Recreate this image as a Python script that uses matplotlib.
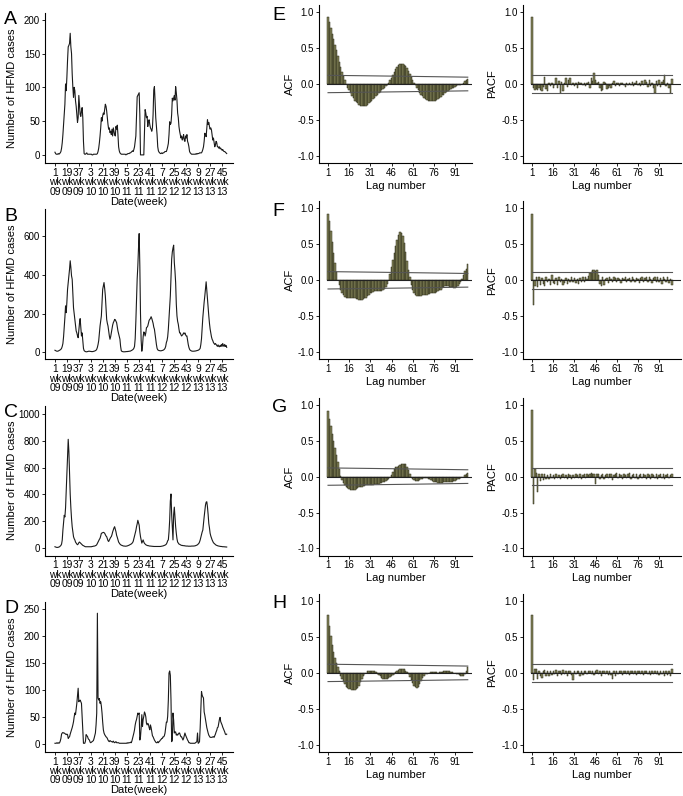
import numpy as np
import matplotlib
matplotlib.use('Agg')
import matplotlib.pyplot as plt

plt.rcParams['font.family'] = ['Liberation Sans', 'DejaVu Sans']
plt.rcParams['axes.unicode_minus'] = False

# ---------------- data ----------------
tick_weeks = [0, 18, 36, 54, 72, 90, 108, 126, 144, 162, 180, 198, 216, 234, 252]
tick_labels = ['1\nwk\n09', '19\nwk\n09', '37\nwk\n09', '3\nwk\n10', '21\nwk\n10', '39\nwk\n10',
               '5\nwk\n11', '23\nwk\n11', '41\nwk\n11', '7\nwk\n12', '25\nwk\n12', '43\nwk\n12',
               '9\nwk\n13', '27\nwk\n13', '45\nwk\n13']

cases_A = [
    4, 2, 1, 1, 1, 2, 1, 2, 3, 5, 10, 18, 30,
    45, 60, 75, 105, 95, 115, 140, 160, 162, 165, 180, 160, 150,
    120, 100, 85, 100, 95, 80, 72, 60, 48, 55, 88, 75, 60,
    57, 65, 70, 55, 20, 2, 1, 1, 2, 3, 1, 1, 1,
    1, 1, 1, 1, 0, 0, 1, 1, 1, 1, 1, 1, 2,
    5, 10, 18, 28, 40, 55, 50, 58, 62, 60, 68, 75, 72,
    65, 55, 45, 38, 40, 33, 35, 30, 38, 28, 40, 35, 30,
    28, 42, 38, 44, 30, 12, 6, 3, 2, 1, 1, 1, 1,
    1, 1, 1, 0, 1, 1, 2, 2, 2, 3, 3, 4, 5,
    6, 5, 8, 12, 20, 28, 55, 86, 88, 90, 92, 60, 0,
    0, 0, 0, 0, 0, 35, 67, 62, 55, 57, 42, 50, 52,
    45, 40, 38, 35, 40, 60, 96, 101, 80, 55, 42, 30, 12,
    6, 4, 3, 2, 2, 3, 2, 3, 3, 4, 5, 5, 5,
    8, 12, 17, 30, 49, 45, 47, 60, 84, 80, 84, 88, 81,
    101, 92, 81, 62, 55, 42, 35, 30, 25, 28, 22, 25, 30,
    22, 20, 28, 25, 30, 20, 17, 12, 5, 3, 2, 1, 1,
    1, 1, 1, 1, 1, 2, 1, 2, 2, 2, 3, 3, 3,
    3, 5, 8, 12, 20, 32, 30, 27, 40, 52, 45, 48, 42,
    38, 40, 37, 30, 22, 25, 18, 12, 15, 20, 18, 12, 12,
    10, 12, 9, 10, 8, 7, 8, 6, 5, 5, 4, 3, 2]

cases_B = [
    10, 8, 6, 5, 5, 6, 8, 10, 12, 15, 20, 30, 45,
    80, 130, 180, 240, 205, 260, 326, 360, 396, 430, 474, 440, 396,
    378, 300, 230, 200, 170, 140, 110, 100, 85, 75, 110, 150, 174,
    130, 84, 100, 60, 20, 8, 5, 3, 2, 2, 3, 4, 5,
    5, 4, 4, 3, 3, 3, 4, 5, 6, 8, 10, 15, 25,
    40, 60, 100, 136, 160, 188, 260, 326, 345, 361, 330, 292, 230,
    170, 150, 136, 110, 85, 67, 80, 100, 120, 140, 153, 160, 170,
    168, 160, 153, 130, 110, 95, 80, 67, 30, 8, 4, 3, 2,
    2, 2, 2, 3, 3, 3, 4, 4, 5, 5, 6, 8, 10,
    12, 15, 20, 30, 70, 160, 275, 380, 448, 540, 615, 448, 200,
    60, 5, 30, 80, 105, 100, 84, 100, 127, 130, 136, 150, 165,
    170, 175, 184, 175, 162, 150, 130, 119, 95, 67, 40, 20, 12,
    10, 8, 8, 7, 7, 8, 9, 10, 12, 15, 20, 30, 50,
    60, 80, 120, 180, 230, 292, 380, 482, 520, 540, 555, 465, 420,
    361, 250, 188, 160, 145, 120, 100, 100, 90, 84, 88, 92, 100,
    95, 100, 90, 84, 84, 60, 40, 25, 15, 10, 8, 6, 5,
    5, 5, 5, 6, 6, 7, 8, 9, 10, 12, 15, 20, 40,
    70, 130, 180, 222, 260, 292, 330, 365, 320, 275, 230, 188, 150,
    120, 100, 80, 67, 60, 50, 45, 40, 45, 40, 35, 30, 38,
    30, 28, 35, 30, 40, 30, 45, 35, 30, 40, 30, 35, 25]

cases_C = [
    10, 8, 6, 5, 5, 6, 8, 10, 15, 20, 30, 60, 134,
    190, 244, 232, 300, 420, 525, 680, 810, 720, 560, 403, 300, 220,
    159, 120, 85, 70, 61, 45, 37, 30, 25, 30, 40, 45, 40,
    35, 30, 25, 20, 18, 15, 12, 10, 10, 10, 10, 10, 10,
    10, 10, 10, 10, 12, 12, 14, 15, 15, 18, 20, 25, 35,
    45, 55, 65, 73, 90, 110, 112, 115, 117, 115, 110, 100, 90,
    85, 70, 55, 49, 60, 73, 80, 85, 100, 120, 134, 150, 159,
    140, 122, 95, 80, 61, 45, 37, 30, 25, 22, 20, 18, 16,
    15, 15, 14, 14, 15, 16, 18, 20, 22, 25, 28, 30, 35,
    40, 50, 70, 90, 110, 130, 159, 180, 207, 190, 171, 120, 85,
    60, 37, 50, 61, 45, 35, 30, 25, 22, 20, 18, 18, 16,
    15, 15, 14, 14, 13, 13, 12, 12, 12, 12, 12, 12, 12,
    12, 12, 12, 12, 13, 14, 15, 16, 18, 20, 22, 25, 30,
    40, 55, 61, 120, 207, 350, 403, 250, 159, 61, 250, 305, 232,
    160, 110, 70, 45, 37, 30, 28, 25, 22, 20, 20, 18, 18,
    18, 16, 16, 15, 15, 15, 14, 14, 14, 14, 14, 15, 15,
    15, 15, 16, 16, 18, 20, 22, 25, 30, 35, 45, 60, 80,
    100, 120, 134, 180, 232, 280, 320, 342, 345, 305, 250, 183, 150,
    110, 90, 75, 61, 50, 40, 35, 30, 26, 22, 20, 18, 16,
    15, 14, 13, 12, 12, 11, 10, 10, 10, 9, 9, 8, 8]

cases_D = [
    1, 1, 1, 2, 1, 2, 1, 2, 5, 10, 18, 20, 21,
    20, 20, 19, 18, 17, 18, 17, 10, 12, 13, 18, 22, 26,
    30, 35, 41, 50, 57, 54, 65, 75, 90, 103, 78, 80, 81,
    78, 75, 51, 30, 1, 1, 1, 5, 17, 15, 14, 10, 8,
    7, 3, 2, 3, 4, 5, 6, 10, 15, 20, 35, 57, 242,
    85, 81, 84, 75, 78, 70, 57, 40, 26, 20, 17, 15, 13,
    12, 10, 7, 5, 4, 6, 5, 4, 4, 3, 5, 3, 2,
    3, 4, 2, 2, 2, 2, 1, 1, 1, 1, 1, 1, 1,
    1, 1, 1, 1, 1, 2, 1, 2, 2, 2, 3, 2, 5,
    10, 15, 20, 26, 35, 41, 45, 51, 57, 55, 57, 7, 13,
    30, 54, 32, 45, 51, 59, 56, 50, 38, 35, 38, 36, 30,
    26, 35, 30, 22, 15, 13, 10, 7, 5, 3, 2, 2, 4,
    2, 4, 5, 7, 8, 10, 10, 13, 13, 15, 20, 30, 40,
    40, 51, 81, 131, 135, 127, 81, 4, 7, 57, 44, 20, 22,
    22, 16, 18, 16, 18, 20, 20, 16, 13, 13, 10, 7, 10,
    15, 20, 16, 13, 10, 7, 5, 2, 2, 1, 1, 1, 1,
    1, 1, 1, 1, 2, 3, 4, 20, 1, 2, 4, 30, 63,
    97, 90, 87, 85, 59, 53, 45, 38, 30, 25, 20, 16, 14,
    12, 12, 12, 12, 13, 13, 12, 15, 18, 22, 25, 30, 31,
    38, 45, 49, 41, 38, 35, 31, 28, 25, 22, 18, 17, 18]

acf_E = [0.93, 0.86, 0.78, 0.70, 0.62, 0.54, 0.47, 0.39, 0.31, 0.24, 0.17, 0.11, 0.05, 0.00, -0.05,
         -0.09, -0.13, -0.17, -0.20, -0.23, -0.25, -0.27, -0.29, -0.30, -0.31, -0.31, -0.31, -0.30, -0.29, -0.27,
         -0.25, -0.23, -0.21, -0.19, -0.17, -0.15, -0.13, -0.11, -0.09, -0.07, -0.05, -0.03, -0.01, 0.02, 0.05,
         0.09, 0.13, 0.17, 0.21, 0.24, 0.26, 0.28, 0.28, 0.28, 0.27, 0.25, 0.22, 0.18, 0.14, 0.10,
         0.06, 0.02, -0.02, -0.05, -0.09, -0.12, -0.15, -0.17, -0.19, -0.21, -0.22, -0.23, -0.24, -0.24, -0.24,
         -0.24, -0.23, -0.22, -0.21, -0.20, -0.18, -0.16, -0.15, -0.13, -0.11, -0.10, -0.08, -0.07, -0.06, -0.05,
         -0.04, -0.03, -0.02, -0.02, -0.01, 0.00, 0.02, 0.04, 0.06, 0.07]
acf_F = [0.93, 0.82, 0.68, 0.53, 0.38, 0.24, 0.11, 0.01, -0.07, -0.13, -0.18, -0.21, -0.23, -0.24, -0.24,
         -0.25, -0.25, -0.25, -0.25, -0.25, -0.26, -0.26, -0.27, -0.27, -0.27, -0.26, -0.25, -0.24, -0.22, -0.20,
         -0.18, -0.17, -0.16, -0.15, -0.15, -0.15, -0.15, -0.15, -0.15, -0.14, -0.12, -0.09, -0.05, 0.01, 0.09,
         0.18, 0.28, 0.38, 0.48, 0.56, 0.63, 0.67, 0.66, 0.61, 0.52, 0.40, 0.27, 0.15, 0.04, -0.06,
         -0.13, -0.18, -0.21, -0.22, -0.22, -0.22, -0.22, -0.21, -0.21, -0.20, -0.20, -0.19, -0.19, -0.18, -0.18,
         -0.18, -0.17, -0.16, -0.15, -0.14, -0.13, -0.11, -0.10, -0.08, -0.08, -0.08, -0.09, -0.10, -0.10, -0.11,
         -0.11, -0.10, -0.08, -0.05, -0.02, 0.02, 0.07, 0.13, 0.16, 0.23]
acf_G = [0.92, 0.80, 0.70, 0.60, 0.50, 0.40, 0.30, 0.20, 0.10, 0.01, -0.05, -0.09, -0.12, -0.14, -0.16,
         -0.17, -0.18, -0.18, -0.18, -0.18, -0.17, -0.16, -0.15, -0.15, -0.14, -0.13, -0.13, -0.12, -0.12, -0.12,
         -0.11, -0.11, -0.11, -0.10, -0.10, -0.10, -0.10, -0.09, -0.09, -0.08, -0.07, -0.06, -0.05, -0.03, -0.01,
         0.02, 0.07, 0.11, 0.13, 0.14, 0.15, 0.16, 0.17, 0.18, 0.18, 0.17, 0.14, 0.09, 0.04, -0.01,
         -0.03, -0.05, -0.06, -0.06, -0.06, -0.05, -0.04, -0.03, -0.02, -0.02, -0.02, -0.03, -0.04, -0.05, -0.06,
         -0.07, -0.08, -0.08, -0.09, -0.09, -0.09, -0.09, -0.08, -0.08, -0.08, -0.08, -0.08, -0.08, -0.07, -0.06,
         -0.06, -0.05, -0.04, -0.03, -0.02, -0.01, 0.00, 0.02, 0.04, 0.05]
acf_H = [0.80, 0.66, 0.51, 0.39, 0.29, 0.21, 0.14, 0.08, 0.02, -0.04, -0.09, -0.13, -0.16, -0.19, -0.21,
         -0.22, -0.23, -0.24, -0.24, -0.24, -0.23, -0.21, -0.18, -0.13, -0.09, -0.05, -0.02, 0.00, 0.02, 0.03,
         0.03, 0.03, 0.03, 0.02, 0.01, -0.01, -0.03, -0.05, -0.07, -0.08, -0.08, -0.08, -0.08, -0.07, -0.06,
         -0.04, -0.03, -0.01, 0.01, 0.03, 0.04, 0.05, 0.06, 0.06, 0.05, 0.03, 0.01, -0.02, -0.06, -0.10,
         -0.14, -0.18, -0.20, -0.21, -0.19, -0.15, -0.11, -0.07, -0.04, -0.02, -0.01, 0.00, 0.00, 0.01, 0.01,
         0.01, 0.01, 0.01, 0.00, 0.01, 0.01, 0.01, 0.02, 0.02, 0.02, 0.02, 0.02, 0.01, 0.01, 0.00,
         0.00, -0.01, -0.02, -0.03, -0.04, -0.05, -0.04, -0.02, 0.02, 0.08]

pacf_E = [0.93, -0.05, -0.08, -0.07, -0.09, -0.06, -0.08, -0.10, -0.04, 0.10,
          -0.07, -0.10, 0.02, -0.03, 0.01, -0.05, -0.02, 0.08, -0.06, 0.04,
          -0.13, 0.03, -0.10, 0.02, 0.08, -0.04, 0.05, 0.08, -0.02, 0.01,
          -0.03, 0.02, -0.05, 0.03, 0.01, 0.02, -0.02, 0.01, -0.03, 0.02,
          0.03, -0.05, 0.08, 0.04, 0.15, 0.05, 0.02, 0.03, -0.06, -0.10,
          -0.08, 0.03, 0.02, -0.07, -0.05, -0.03, -0.06, 0.02, 0.04, -0.03,
          0.02, 0.01, -0.03, 0.02, 0.01, -0.02, -0.04, 0.01, -0.01, 0.02,
          -0.02, 0.03, -0.03, 0.02, 0.04, -0.02, 0.01, -0.03, 0.04, -0.02,
          0.05, 0.03, -0.04, 0.06, -0.03, 0.02, -0.05, -0.12, 0.04, -0.03,
          0.05, -0.04, 0.03, 0.06, 0.12, -0.03, 0.02, -0.06, -0.12, 0.07]
pacf_F = [0.93, -0.35, -0.08, 0.05, -0.10, 0.04, -0.06, 0.03, -0.05, -0.08,
          0.05, -0.03, 0.02, -0.06, 0.08, -0.04, -0.05, 0.03, -0.07, 0.04,
          -0.03, 0.02, -0.06, -0.04, 0.03, -0.05, 0.02, -0.03, 0.04, -0.02,
          0.03, -0.04, 0.02, -0.05, 0.03, -0.02, 0.04, -0.03, 0.05, 0.02,
          0.06, 0.10, 0.12, 0.14, 0.15, 0.13, 0.15, 0.08, -0.05, -0.08,
          0.04, -0.06, 0.02, 0.03, -0.04, 0.05, 0.02, -0.03, 0.04, 0.03,
          -0.02, 0.03, 0.02, -0.04, 0.03, 0.02, 0.04, -0.03, 0.02, 0.03,
          -0.02, 0.04, 0.02, -0.03, 0.03, 0.02, -0.04, 0.03, 0.05, -0.02,
          0.03, 0.04, -0.03, 0.05, 0.02, -0.04, 0.03, 0.05, -0.03, 0.04,
          -0.02, 0.03, -0.05, 0.04, 0.02, -0.03, 0.05, -0.04, 0.02, -0.06]
pacf_G = [0.93, -0.38, 0.10, 0.05, -0.22, 0.03, -0.06, 0.04, -0.05, 0.03,
          -0.03, 0.02, -0.04, 0.03, -0.02, 0.02, -0.03, 0.04, -0.02, 0.02,
          -0.03, 0.02, 0.03, -0.02, 0.02, -0.03, 0.04, 0.02, -0.03, 0.02,
          -0.02, 0.03, 0.02, -0.02, 0.03, -0.04, 0.02, 0.03, -0.02, 0.04,
          0.02, 0.03, 0.05, 0.04, 0.03, -0.10, 0.04, 0.03, -0.03, 0.02,
          0.03, -0.04, 0.02, 0.03, -0.02, 0.04, 0.03, -0.05, 0.02, 0.04,
          0.05, -0.02, 0.03, 0.02, -0.03, 0.04, 0.02, -0.02, 0.03, 0.05,
          -0.03, 0.02, 0.04, -0.02, 0.03, -0.04, 0.02, 0.03, -0.02, 0.04,
          0.02, -0.03, 0.03, 0.02, -0.04, 0.03, 0.02, -0.02, 0.03, -0.03,
          0.02, 0.03, -0.02, 0.04, -0.03, 0.02, 0.03, -0.02, 0.02, 0.03]
pacf_H = [0.80, -0.10, 0.05, 0.06, -0.08, 0.03, -0.05, -0.07, 0.02, 0.04,
          -0.05, 0.03, -0.04, 0.02, -0.03, 0.03, -0.02, 0.04, -0.05, 0.03,
          0.02, -0.03, 0.04, -0.02, 0.03, -0.04, 0.02, 0.03, -0.03, -0.10,
          0.03, -0.02, 0.02, 0.03, -0.04, 0.02, -0.03, 0.02, 0.03, -0.02,
          0.02, 0.03, -0.02, 0.03, -0.03, 0.02, 0.04, -0.02, 0.03, -0.04,
          0.02, 0.03, -0.02, 0.02, -0.03, 0.02, -0.03, -0.08, 0.02, -0.04,
          0.03, -0.02, 0.02, 0.03, -0.03, 0.02, 0.03, -0.02, 0.02, -0.03,
          0.02, 0.03, -0.02, 0.02, -0.03, 0.02, 0.03, -0.02, 0.02, -0.03,
          0.02, 0.03, -0.02, 0.02, -0.03, 0.02, -0.02, 0.03, -0.02, 0.02,
          -0.03, 0.02, -0.02, 0.03, -0.04, 0.02, -0.03, 0.02, -0.05, 0.06]

panel_letters_left = ['A', 'B', 'C', 'D']
panel_letters_acf = ['E', 'F', 'G', 'H']
series = [cases_A, cases_B, cases_C, cases_D]
acfs = [acf_E, acf_F, acf_G, acf_H]
pacfs = [pacf_E, pacf_F, pacf_G, pacf_H]
ylims = [(-12, 210), (-37, 741), (-56, 1061), (-15, 263)]
yticks = [[0, 50, 100, 150, 200], [0, 200, 400, 600], [0, 200, 400, 600, 800, 1000],
          [0, 50, 100, 150, 200, 250]]
lag_ticks = [1, 16, 31, 46, 61, 76, 91]
n_obs = 260

# ---------------- figure ----------------
W, H = 683, 796
fig = plt.figure(figsize=(W / 100, H / 100), dpi=100)

bar_face = '#85855a'
bar_edge = '#2a2a18'
tick_fs = 7.0
xt_fs = 7.4
lab_fs = 8.0


def ax_px(left, top, width, height):
    return fig.add_axes([left / W, 1 - (top + height) / H, width / W, height / H])


def style(ax):
    for s in ['top', 'right']:
        ax.spines[s].set_visible(False)
    for s in ['left', 'bottom']:
        ax.spines[s].set_linewidth(0.8)
    ax.tick_params(direction='out', length=2.5, width=0.6, labelsize=tick_fs, pad=1)


row_off = 196.3
lags = np.arange(1, 101)
acf_conf = 1.96 * np.sqrt((n_obs - lags) / (n_obs * (n_obs + 2.0)))
pacf_conf = 1.96 / np.sqrt(n_obs)

for i in range(4):
    dy = i * row_off
    # time series
    ax = ax_px(45, 13 + dy, 188, 150)
    style(ax)
    y = np.array(series[i], dtype=float)
    ax.plot(np.arange(len(y)), y, color='#1a1a1a', lw=0.8)
    ax.set_xlim(-15, 268.5)
    ax.set_ylim(*ylims[i])
    ax.set_yticks(yticks[i])
    ax.set_xticks(tick_weeks)
    ax.set_xticklabels(tick_labels, linespacing=0.92, fontsize=xt_fs)
    ax.set_ylabel('Number of HFMD cases', fontsize=lab_fs)
    ax.yaxis.set_label_coords((17 - 45) / 188, 0.5)
    ax.set_xlabel('Date(week)', fontsize=lab_fs, labelpad=0)
    fig.text(4 / W, 1 - (20 + dy) / H, panel_letters_left[i], fontsize=14, va='center', ha='left')

    # ACF
    ax = ax_px(319, 5 + dy, 153, 158)
    style(ax)
    ax.bar(lags, acfs[i], width=1.0, color=bar_face, edgecolor=bar_edge, linewidth=0.35)
    ax.plot([0.5, 110], [0, 0], color='#222222', lw=0.8)
    ax.plot(lags, acf_conf, color='#555555', lw=0.8)
    ax.plot(lags, -acf_conf, color='#555555', lw=0.8)
    ax.set_xlim(-5.4, 103)
    ax.set_ylim(-1.1, 1.1)
    ax.set_yticks([-1.0, -0.5, 0.0, 0.5, 1.0])
    ax.set_yticklabels(['-1.0', '-0.5', '0.0', '0.5', '1.0'])
    ax.set_xticks(lag_ticks)
    ax.set_ylabel('ACF', fontsize=lab_fs)
    ax.yaxis.set_label_coords((295 - 319) / 153, 0.5)
    ax.set_xlabel('Lag number', fontsize=lab_fs, labelpad=2)
    fig.text(272 / W, 1 - (15 + dy) / H, panel_letters_acf[i], fontsize=14, va='center', ha='left')

    # PACF
    ax = ax_px(523, 5 + dy, 158, 158)
    style(ax)
    ax.bar(lags, pacfs[i], width=1.0, color=bar_face, edgecolor=bar_edge, linewidth=0.35)
    ax.plot([0.5, 110], [0, 0], color='#222222', lw=0.8)
    ax.plot([1, 100], [pacf_conf, pacf_conf], color='#555555', lw=0.8)
    ax.plot([1, 100], [-pacf_conf, -pacf_conf], color='#555555', lw=0.8)
    ax.set_xlim(-5.4, 106.5)
    ax.set_ylim(-1.1, 1.1)
    ax.set_yticks([-1.0, -0.5, 0.0, 0.5, 1.0])
    ax.set_yticklabels(['-1.0', '-0.5', '0.0', '0.5', '1.0'])
    ax.set_xticks(lag_ticks)
    ax.set_ylabel('PACF', fontsize=lab_fs)
    ax.yaxis.set_label_coords((497 - 523) / 158, 0.5)
    ax.set_xlabel('Lag number', fontsize=lab_fs, labelpad=2)

fig.savefig('out.png', dpi=100)
